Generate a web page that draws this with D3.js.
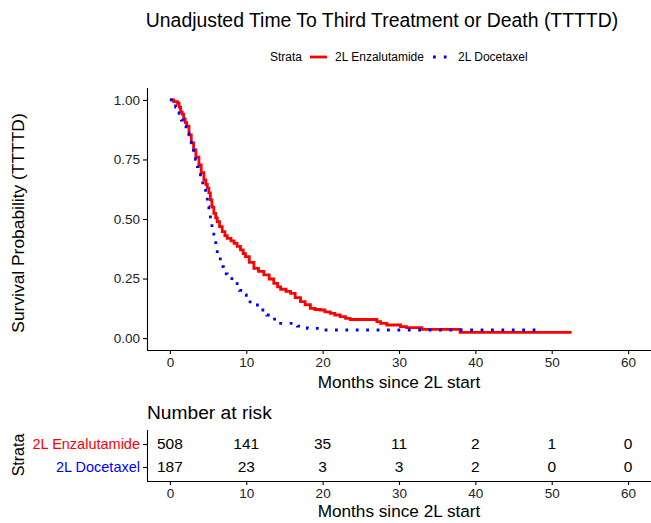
<!DOCTYPE html>
<html>
<head>
<meta charset="utf-8">
<script src="https://cdn.jsdelivr.net/npm/d3@7"></script>
<style>
  html, body { margin: 0; padding: 0; background: #fff; }
  svg { display: block; font-family: "Liberation Sans", Arial, Helvetica, sans-serif; }
</style>
</head>
<body>
<svg id="chart" width="651" height="523"></svg>
<script>
// ---- Data ----
const strata = ["2L Enzalutamide", "2L Docetaxel"];
const strataColors = ["#FF0000", "#0000FF"];
const xTicks = [0, 10, 20, 30, 40, 50, 60];
const yTicks = [0, 0.25, 0.5, 0.75, 1];
const yTickLabels = ["0.00", "0.25", "0.50", "0.75", "1.00"];

// Kaplan-Meier step points [month, survival]
const enzaCurve = [
  [0, 1.0], [0.5, 0.993], [1.0, 0.986], [1.2, 0.97], [1.4, 0.95], [1.6, 0.94], [1.8, 0.92],
  [2.0, 0.905], [2.2, 0.89], [2.5, 0.853], [2.8, 0.82], [3.1, 0.79], [3.4, 0.76], [3.8, 0.727],
  [4.1, 0.695], [4.45, 0.664], [4.7, 0.645], [4.9, 0.63], [5.1, 0.61], [5.3, 0.58], [5.5, 0.55],
  [5.75, 0.524], [6.0, 0.505], [6.2, 0.489], [6.5, 0.468], [6.85, 0.447], [7.2, 0.43], [7.5, 0.419],
  [8.0, 0.408], [8.4, 0.398], [8.8, 0.385], [9.24, 0.37], [9.6, 0.355], [9.9, 0.342], [10.4, 0.318],
  [11.0, 0.293], [11.6, 0.28], [12.3, 0.265], [13.0, 0.248], [13.6, 0.23], [14.1, 0.215], [14.5, 0.205],
  [15.2, 0.196], [15.8, 0.188], [16.4, 0.17], [17.1, 0.153], [17.7, 0.14], [18.4, 0.125], [19.0, 0.12],
  [19.7, 0.118], [20.3, 0.11], [21.0, 0.104], [21.6, 0.097], [22.3, 0.09], [23.0, 0.083], [23.6, 0.078],
  [27.1, 0.069], [27.6, 0.062], [28.4, 0.055], [30.2, 0.048], [31.0, 0.044], [33.0, 0.037],
  [38.0, 0.024], [52.6, 0.024]
];
const doceCurve = [
  [0, 1.0], [0.4, 0.985], [0.75, 0.97], [1.2, 0.944], [1.5, 0.915], [1.8, 0.888], [2.1, 0.86],
  [2.5, 0.832], [2.8, 0.805], [3.1, 0.776], [3.35, 0.75], [3.6, 0.72], [4.0, 0.678], [4.3, 0.645],
  [4.67, 0.608], [4.9, 0.552], [5.1, 0.515], [5.3, 0.482], [5.5, 0.447], [5.75, 0.412], [6.0, 0.375],
  [6.2, 0.342], [6.6, 0.3], [7.0, 0.27], [7.5, 0.25], [8.4, 0.237], [8.8, 0.216], [9.1, 0.2],
  [9.5, 0.181], [10.0, 0.16], [10.5, 0.139], [11.9, 0.118], [12.7, 0.097], [13.5, 0.08], [14.5, 0.062],
  [16.7, 0.05], [18.0, 0.041], [19.3, 0.034], [48.7, 0.034]
];
const riskEnza = [508, 141, 35, 11, 2, 1, 0];
const riskDoce = [187, 23, 3, 3, 2, 0, 0];

// ---- Layout ----
const svg = d3.select("#chart");
const left = 147, right = 651;
const x = d3.scaleLinear().domain([-3, 63]).range([left, right]);
const y = d3.scaleLinear().domain([-0.05, 1.05]).range([350, 88]);

// Title
svg.append("text").attr("x", 382).attr("y", 27).attr("text-anchor", "middle")
  .attr("font-size", 19.4).attr("fill", "#000")
  .text("Unadjusted Time To Third Treatment or Death (TTTTD)");

// Legend
const lg = svg.append("g").attr("font-size", 12).attr("fill", "#000");
lg.append("text").attr("x", 270).attr("y", 61).text("Strata");
lg.append("line").attr("x1", 310).attr("x2", 327).attr("y1", 57).attr("y2", 57)
  .attr("stroke", strataColors[0]).attr("stroke-width", 2.8);
lg.append("text").attr("x", 335).attr("y", 61).text(strata[0]);
lg.append("line").attr("x1", 433).attr("x2", 448).attr("y1", 57).attr("y2", 57)
  .attr("stroke", strataColors[1]).attr("stroke-width", 2.8).attr("stroke-dasharray", "2.8 8");
lg.append("text").attr("x", 458).attr("y", 61).text(strata[1]);

// Axes main
const xAxis = d3.axisBottom(x).tickValues(xTicks).tickSize(4).tickPadding(3);
const yAxis = d3.axisLeft(y).tickValues(yTicks).tickFormat((d, i) => yTickLabels[i]).tickSize(4).tickPadding(3);

const gx = svg.append("g").attr("transform", "translate(0,350)").call(xAxis);
const gy = svg.append("g").attr("transform", `translate(${left},0)`).call(yAxis);
[gx, gy].forEach(g => {
  g.selectAll("path").attr("stroke", "#000").attr("stroke-width", 1.1);
  g.selectAll("line").attr("stroke", "#000").attr("stroke-width", 1.1);
  g.selectAll("text").attr("font-size", 13.5).attr("fill", "#222").attr("font-family", "Liberation Sans, Arial, sans-serif");
});
gx.select(".domain").attr("d", `M${left},0.5H${right}`);
gy.select(".domain").attr("d", `M0.5,${88}V${350}`);

// Axis titles
svg.append("text").attr("x", 399).attr("y", 388).attr("text-anchor", "middle")
  .attr("font-size", 17.2).text("Months since 2L start");
svg.append("text").attr("transform", "translate(24,223) rotate(-90)").attr("text-anchor", "middle")
  .attr("font-size", 17.4).text("Survival Probability (TTTTD)");

// Curves
const line = d3.line().x(d => x(d[0])).y(d => y(d[1])).curve(d3.curveStepAfter);
svg.append("path").datum(enzaCurve).attr("d", line).attr("fill", "none")
  .attr("stroke", strataColors[0]).attr("stroke-width", 2.8);
svg.append("path").datum(doceCurve).attr("d", line).attr("fill", "none")
  .attr("stroke", strataColors[1]).attr("stroke-width", 2.8).attr("stroke-dasharray", "2.8 7.6");

// ---- Risk table ----
const yr = d3.scalePoint().domain(strata).range([444, 467]);
svg.append("text").attr("x", 147).attr("y", 419).attr("font-size", 19.2).text("Number at risk");

const gx2 = svg.append("g").attr("transform", "translate(0,481)").call(xAxis);
const gy2 = svg.append("g").attr("transform", `translate(${left},0)`)
  .call(d3.axisLeft(yr).tickSize(4).tickPadding(3));
[gx2, gy2].forEach(g => {
  g.selectAll("path").attr("stroke", "#000").attr("stroke-width", 1.1);
  g.selectAll("line").attr("stroke", "#000").attr("stroke-width", 1.1);
  g.selectAll("text").attr("font-family", "Liberation Sans, Arial, sans-serif");
});
gx2.selectAll("text").attr("font-size", 13.5).attr("fill", "#222");
gy2.selectAll("text").attr("font-size", 14.5).attr("fill", (d, i) => strataColors[i]);
gx2.select(".domain").attr("d", `M${left},0.5H${right}`);
gy2.select(".domain").attr("d", `M0.5,430V481`);

const riskRows = [riskEnza, riskDoce];
riskRows.forEach((row, r) => {
  svg.append("g").selectAll("text").data(row).join("text")
    .attr("x", (d, i) => x(xTicks[i])).attr("y", yr(strata[r]))
    .attr("dy", "0.35em").attr("text-anchor", "middle").attr("font-size", 15.5).attr("fill", "#000")
    .text(d => d);
});

svg.append("text").attr("x", 399).attr("y", 517).attr("text-anchor", "middle")
  .attr("font-size", 17.2).text("Months since 2L start");
svg.append("text").attr("transform", "translate(24,455) rotate(-90)").attr("text-anchor", "middle")
  .attr("font-size", 16).text("Strata");
</script>
</body>
</html>
